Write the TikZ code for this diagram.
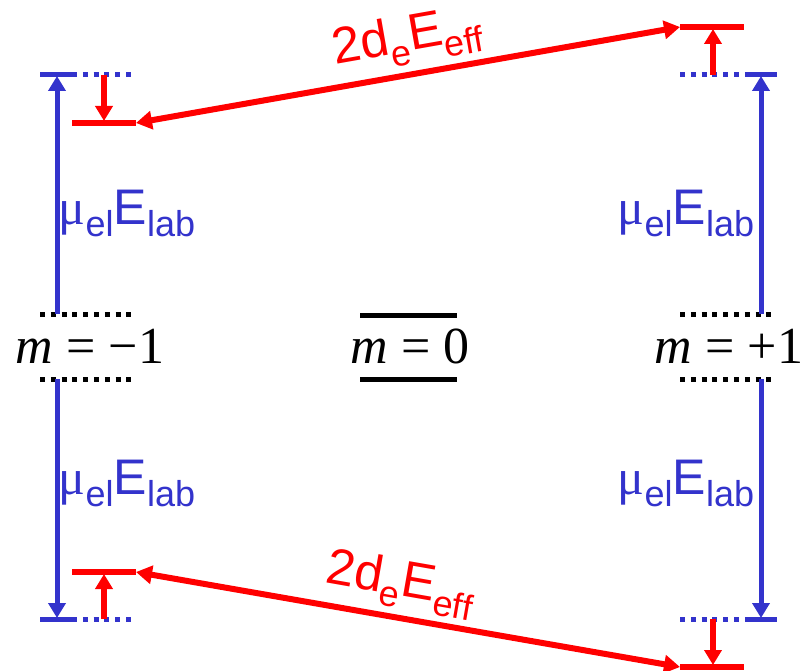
\documentclass[tikz,border=0pt]{standalone}
\usepackage{fontspec}
\setmainfont{Liberation Sans}
\newfontfamily\serifm{Liberation Serif}
\usetikzlibrary{arrows.meta}
\definecolor{lvlblue}{HTML}{3333CC}
\definecolor{lvlred}{HTML}{FF0000}
\newcommand\lowsub[1]{\raisebox{-12pt}{\fontsize{36}{36}\selectfont #1}}
\newcommand\lowsubr[1]{\raisebox{-13pt}{\fontsize{36}{36}\selectfont #1}}
\tikzset{
 blueline/.style={lvlblue, line width=5pt},
 bluedot/.style={lvlblue, line width=5pt, dash pattern=on 5pt off 5.8pt},
 blackdot/.style={black, line width=5pt, dash pattern=on 5pt off 5.8pt},
 blackline/.style={black, line width=5pt},
 redline/.style={lvlred, line width=6pt},
 bluearrow/.style={lvlblue, line width=5pt, -{Triangle[length=15pt,width=17pt]}},
 redarrow/.style={lvlred, line width=6pt, -{Triangle[length=15pt,width=17pt]}},
 redboth/.style={lvlred, line width=6pt, {Triangle[length=16pt,width=18pt]}-{Triangle[length=16pt,width=18pt]}},
 mlabel/.style={font=\serifm\fontsize{52}{60}\selectfont, inner sep=0pt},
 mulabel/.style={text=lvlblue, font=\fontsize{50}{58}\selectfont, inner sep=0pt},
 delabel/.style={text=lvlred, font=\fontsize{51}{58}\selectfont, inner sep=0pt},
}
\begin{document}
\begin{tikzpicture}[x=1pt,y=-1pt]
\useasboundingbox (0,0) rectangle (803,671);
% ---- coordinates: left column
\coordinate (bTLa) at (40,75);  \coordinate (bTLb) at (72,75);  \coordinate (bTLc) at (131,75);
\coordinate (rTLa) at (72,123); \coordinate (rTLb) at (136,123);
\coordinate (kL1a) at (40,314); \coordinate (kL1b) at (131,314);
\coordinate (kL2a) at (40,379); \coordinate (kL2b) at (131,379);
\coordinate (bBLa) at (40,619); \coordinate (bBLb) at (72,619); \coordinate (bBLc) at (131,619);
\coordinate (rBLa) at (72,572); \coordinate (rBLb) at (136,572);
% ---- centre
\coordinate (k0a) at (360,315); \coordinate (k0b) at (457,315);
\coordinate (k0c) at (360,379); \coordinate (k0d) at (457,379);
% ---- right column
\coordinate (bTRa) at (680,75);  \coordinate (bTRb) at (745,75);  \coordinate (bTRc) at (777,75);
\coordinate (rTRa) at (680,27);  \coordinate (rTRb) at (744,27);
\coordinate (kR1a) at (680,314); \coordinate (kR1b) at (772,314);
\coordinate (kR2a) at (680,379); \coordinate (kR2b) at (772,379);
\coordinate (bBRa) at (680,619); \coordinate (bBRb) at (745,619); \coordinate (bBRc) at (777,619);
\coordinate (rBRa) at (680,667); \coordinate (rBRb) at (744,667);
% arrow anchors
\coordinate (aL1) at (57,314); \coordinate (aL1t) at (57,76);
\coordinate (aL2) at (57,379); \coordinate (aL2t) at (57,618);
\coordinate (aR1) at (761,314); \coordinate (aR1t) at (761,76);
\coordinate (aR2) at (761,379); \coordinate (aR2t) at (761,618);
\coordinate (sL1) at (104,75);  \coordinate (sL1t) at (104,121);
\coordinate (sL2) at (104,619); \coordinate (sL2t) at (104,574);
\coordinate (sR1) at (713,75);  \coordinate (sR1t) at (713,29);
\coordinate (sR2) at (713,619); \coordinate (sR2t) at (713,665);

% ---- level lines
\draw[blueline] (bTLa) -- (bTLb);
\draw[bluedot]  (bTLb) -- (bTLc);
\draw[blueline] (bBLa) -- (bBLb);
\draw[bluedot]  (bBLb) -- (bBLc);
\draw[redline] (rTLa) -- (rTLb);
\draw[redline] (rBLa) -- (rBLb);
\draw[blackdot] (kL1a) -- (kL1b);
\draw[blackdot] (kL2a) -- (kL2b);
\draw[blackline] (k0a) -- (k0b);
\draw[blackline] (k0c) -- (k0d);
\draw[bluedot]  (bTRa) -- (bTRb);
\draw[blueline] (bTRb) -- (bTRc);
\draw[bluedot]  (bBRa) -- (bBRb);
\draw[blueline] (bBRb) -- (bBRc);
\draw[redline] (rTRa) -- (rTRb);
\draw[redline] (rBRa) -- (rBRb);
\draw[blackdot] (kR1a) -- (kR1b);
\draw[blackdot] (kR2a) -- (kR2b);

% ---- blue arrows
\draw[bluearrow] (aL1) -- (aL1t);
\draw[bluearrow] (aL2) -- (aL2t);
\draw[bluearrow] (aR1) -- (aR1t);
\draw[bluearrow] (aR2) -- (aR2t);
% ---- red short arrows
\draw[redarrow] (sL1) -- (sL1t);
\draw[redarrow] (sL2) -- (sL2t);
\draw[redarrow] (sR1) -- (sR1t);
\draw[redarrow] (sR2) -- (sR2t);
% ---- red long arrows
\draw[redboth] (rTLb) -- node[delabel, sloped, above=7pt, pos=0.51] (deT) {2d\lowsubr{e}E\lowsubr{eff}} (rTRa);
\draw[redboth] (rBLb) -- node[delabel, sloped, above=6pt, pos=0.475] (deB) {2d\lowsubr{e}E\lowsubr{eff}} (rBRa);

% ---- labels
\node[mulabel] (muTL) at (127,213) {{\serifm μ}\lowsub{el}E\lowsub{lab}};
\node[mulabel] (muBL) at (127,483) {{\serifm μ}\lowsub{el}E\lowsub{lab}};
\node[mulabel] (muTR) at (686,213) {{\serifm μ}\lowsub{el}E\lowsub{lab}};
\node[mulabel] (muBR) at (686,483) {{\serifm μ}\lowsub{el}E\lowsub{lab}};
\node[mlabel] (mL) at (90,346) {\textit{m} = −1};
\node[mlabel] (m0) at (410,346) {\textit{m} = 0};
\node[mlabel] (mR) at (729,346) {\textit{m} = +1};
\end{tikzpicture}
\end{document}
